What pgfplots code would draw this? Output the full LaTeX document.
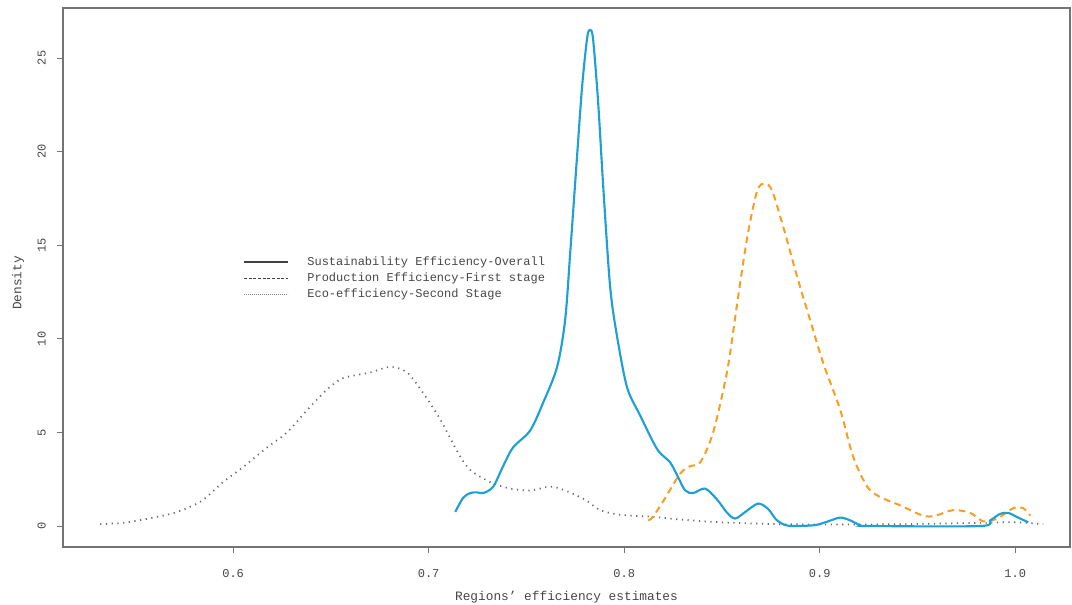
\documentclass[border=0pt]{standalone}
\usepackage{fontspec}
\setmainfont{Liberation Mono}
\usepackage{pgfplots}
\pgfplotsset{compat=1.18}
\definecolor{cblue}{RGB}{30,160,215}
\definecolor{corange}{RGB}{247,158,32}
\definecolor{cgrey}{RGB}{105,105,105}
\definecolor{axgrey}{RGB}{115,115,115}
\definecolor{txtgrey}{RGB}{70,70,70}
\begin{document}
\begin{tikzpicture}
\path[use as bounding box] (-47.25pt,-43.5pt) rectangle (756.75pt,410.25pt);
\begin{axis}[
  at={(0,0)}, anchor=south west,
  scale only axis, width=755.25pt, height=404.25pt,
  xmin=0.513, xmax=1.028, ymin=-1.12, ymax=27.67,
  axis line style={axgrey, line width=1.1pt},
  xtick={0.6,0.7,0.8,0.9,1.0}, xticklabels={0.6,0.7,0.8,0.9,1.0},
  ytick={0,5,10,15,20,25},
  tick align=outside, tick pos=left,
  major tick length=4.5pt,
  every tick/.style={axgrey, line width=0.7pt},
  tick label style={font=\fontsize{9}{10}\selectfont, text=txtgrey},
  /pgf/number format/assume math mode=true,
  yticklabel style={rotate=90, anchor=south},
  yticklabel shift=5pt,
  xticklabel style={yshift=-8.5pt},
  xlabel={Regions' efficiency estimates},
  ylabel={Density},
  xlabel style={at={(axis description cs:0.5,0)}, anchor=center, yshift=-37.5pt, font=\fontsize{9.6}{11}\selectfont, text=txtgrey},
  ylabel style={at={(axis description cs:-0.0447,0.49)}, anchor=center, font=\fontsize{9.6}{11}\selectfont, text=txtgrey},
  legend image code/.code={\draw[#1] (0pt,0pt) -- (33pt,0pt);},
  legend style={draw=none, fill=none, at={(axis description cs:0.175,0.549)}, anchor=north west,
    font=\fontsize{9}{12.6}\selectfont, text=txtgrey, row sep=0pt,
    /tikz/every odd column/.append style={column sep=12pt}},
  legend cell align=left,
]
\addlegendimage{black!75, line width=0.9pt}
\addlegendentry{Sustainability Efficiency-Overall}
\addlegendimage{black!75, line width=0.7pt, dash pattern=on 2.2pt off 1.3pt}
\addlegendentry{Production Efficiency-First stage}
\addlegendimage{black!45, line width=0.7pt, dash pattern=on 0.6pt off 0.9pt}
\addlegendentry{Eco-efficiency-Second Stage}

% Eco-efficiency (second stage)
\addplot[cgrey, line width=1.3pt, dash pattern=on 0.9pt off 3.4pt, smooth, forget plot] coordinates {
(0.5320,0.1)(0.5458,0.2)(0.5662,0.6)(0.5765,0.96)(0.5847,1.4)(0.5949,2.35)(0.6051,3.15)
(0.6174,4.2)(0.6276,5.0)(0.6379,6.2)(0.6481,7.3)(0.6563,7.9)(0.6701,8.2)(0.6803,8.5)
(0.6890,8.2)(0.6972,7.1)(0.7059,5.7)(0.7151,3.9)(0.7212,3.0)(0.7315,2.35)(0.7417,2.0)
(0.7519,1.9)(0.7621,2.1)(0.7698,1.9)(0.7801,1.4)(0.7877,0.85)(0.7980,0.6)(0.8133,0.5)
(0.8286,0.35)(0.8491,0.2)(0.8798,0.1)(0.9207,0.08)(0.9734,0.15)(0.9990,0.2)(1.0143,0.1)
};

% Production efficiency (first stage)
\addplot[corange, line width=1.5pt, dash pattern=on 5pt off 3.5pt, smooth, forget plot] coordinates {
(0.8123,0.3)(0.8148,0.5)(0.8210,1.5)(0.8286,2.8)(0.8338,3.2)(0.8389,3.4)(0.8455,5.0)
(0.8527,8.3)(0.8578,11.9)(0.8629,15.4)(0.8680,17.9)(0.8721,18.3)(0.8757,17.9)(0.8813,16.0)
(0.8885,13.3)(0.8951,11.0)(0.9018,8.7)(0.9105,6.2)(0.9171,3.7)(0.9243,2.1)(0.9309,1.55)
(0.9412,1.1)(0.9529,0.55)(0.9591,0.55)(0.9683,0.85)(0.9770,0.7)(0.9836,0.25)(0.9908,0.4)
(0.9990,0.95)(1.0041,0.95)(1.0077,0.55)
};

% Sustainability efficiency (overall)
\addplot[cblue, line width=1.6pt, smooth, tension=0.5, forget plot] coordinates {
(0.7136,0.75)(0.7176,1.5)(0.7212,1.76)(0.7248,1.8)(0.7279,1.76)(0.7330,2.1)(0.7381,3.2)
(0.7432,4.2)(0.7519,5.1)(0.7586,6.6)(0.7657,8.5)(0.7698,11.0)(0.7724,14.6)(0.7760,19.9)
(0.7785,23.5)(0.7811,26.1)(0.7826,26.5)(0.7841,26.0)(0.7867,22.6)(0.7893,18.1)(0.7928,12.8)
(0.7964,10.1)(0.8015,7.4)(0.8082,5.9)(0.8169,4.1)(0.8235,3.4)(0.8276,2.6)(0.8312,1.9)
(0.8353,1.76)(0.8414,2.0)(0.8476,1.4)(0.8527,0.7)(0.8568,0.4)(0.8619,0.75)(0.8685,1.2)
(0.8737,0.9)(0.8777,0.35)(0.8823,0.05)(0.8875,0)(0.8977,0.05)(0.9043,0.25)(0.9105,0.45)
(0.9156,0.3)(0.9207,0.05)(0.9258,0)(0.9821,0)(0.9872,0.3)(0.9923,0.65)(0.9964,0.7)
(1.0015,0.45)(1.0066,0.2)
};
\end{axis}
\end{tikzpicture}
\end{document}
